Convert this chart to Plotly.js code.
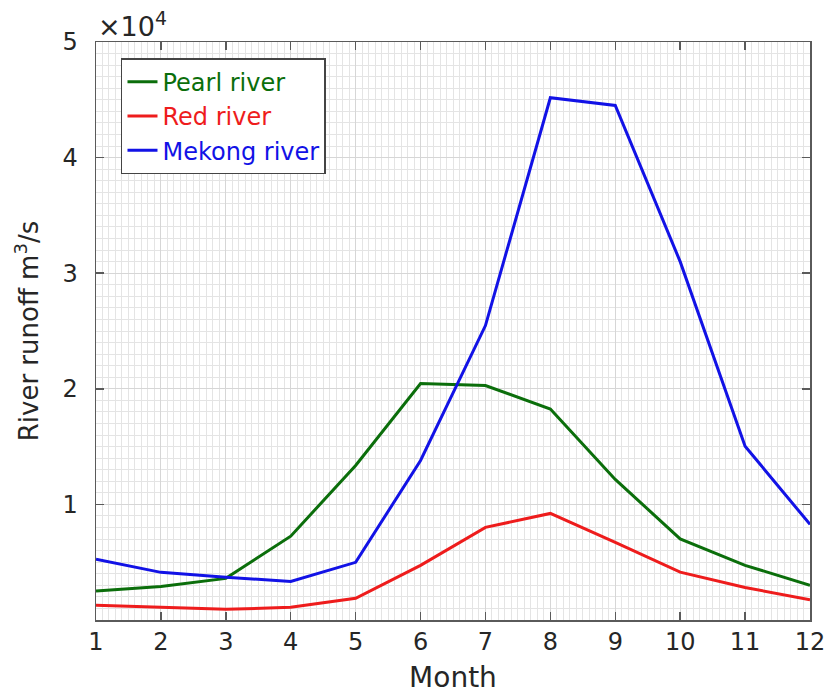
<!DOCTYPE html>
<html>
<head>
<meta charset="utf-8">
<script src="https://cdn.plot.ly/plotly-3.0.1.min.js"></script>
<style>html,body{margin:0;padding:0;background:#fff;}</style>
</head>
<body>
<div id="chart" style="width:830px;height:694px;"></div>
<script>
const months = [1,2,3,4,5,6,7,8,9,10,11,12];
const pearl  = [2510, 2890, 3600, 7250, 13370, 20450, 20280, 18250, 12160, 7020, 4730, 3000];
const red    = [1270, 1100, 920, 1100, 1880, 4730, 8010, 9220, 6720, 4140, 2810, 1750];
const mekong = [5250, 4120, 3690, 3340, 4990, 13800, 25470, 45180, 44510, 31000, 15040, 8270];
const yTickVals = [10000, 20000, 30000, 40000, 50000];
const yTickText = ['1', '2', '3', '4', '5'];

const colors = {pearl: '#0b6e0b', red: '#ee1c1c', mekong: '#1212e6'};
const font = 'DejaVu Sans, Verdana, sans-serif';

const traces = [
  {x: months, y: pearl, mode: 'lines', name: '<span style="color:' + colors.pearl + '">Pearl river</span>', line: {color: colors.pearl, width: 3}},
  {x: months, y: red, mode: 'lines', name: '<span style="color:' + colors.red + '">Red river</span>', line: {color: colors.red, width: 3}},
  {x: months, y: mekong, mode: 'lines', name: '<span style="color:' + colors.mekong + '">Mekong river</span>', line: {color: colors.mekong, width: 3}}
];

const axisCommon = {
  showline: true, linecolor: '#5a5a5a', linewidth: 1.5, mirror: 'ticks',
  ticks: 'inside', ticklen: 8, tickcolor: '#5a5a5a', tickwidth: 1.5,
  showgrid: true, gridcolor: '#d6d6d6', gridwidth: 1, zeroline: false,
  tickfont: {family: font, size: 24, color: '#262626'}
};

const layout = {
  width: 830, height: 694,
  margin: {l: 96, r: 20, t: 42, b: 74},
  paper_bgcolor: '#ffffff', plot_bgcolor: '#ffffff',
  showlegend: true,
  legend: {
    x: 0.035, y: 0.972, xanchor: 'left', yanchor: 'top',
    bgcolor: '#ffffff', bordercolor: '#444', borderwidth: 1.5,
    font: {family: font, size: 24}, tracegroupgap: 0, itemwidth: 30
  },
  xaxis: Object.assign({}, axisCommon, {
    range: [1, 12], tickmode: 'linear', tick0: 1, dtick: 1,
    minor: {dtick: 0.1, tick0: 1, showgrid: true, gridcolor: '#e4e4e4', gridwidth: 1, ticks: ''},
    title: {text: 'Month', font: {family: font, size: 28, color: '#262626'}, standoff: 12}
  }),
  yaxis: Object.assign({}, axisCommon, {
    range: [0, 50000], tickmode: 'array', tickvals: yTickVals, ticktext: yTickText,
    ticklabelstandoff: 12,
    minor: {dtick: 1000, tick0: 0, showgrid: true, gridcolor: '#e4e4e4', gridwidth: 1, ticks: ''},
    title: {text: 'River runoff m<sup>3</sup>/s', font: {family: font, size: 26, color: '#262626'}, standoff: 16}
  }),
  annotations: [{
    xref: 'paper', yref: 'paper', x: 0, y: 1, xanchor: 'left', yanchor: 'bottom',
    text: '×10<sup>4</sup>', showarrow: false, xshift: 0, yshift: -2,
    font: {family: font, size: 27, color: '#262626'}
  }]
};

Plotly.newPlot('chart', traces, layout, {displayModeBar: false, staticPlot: true});
</script>
</body>
</html>
